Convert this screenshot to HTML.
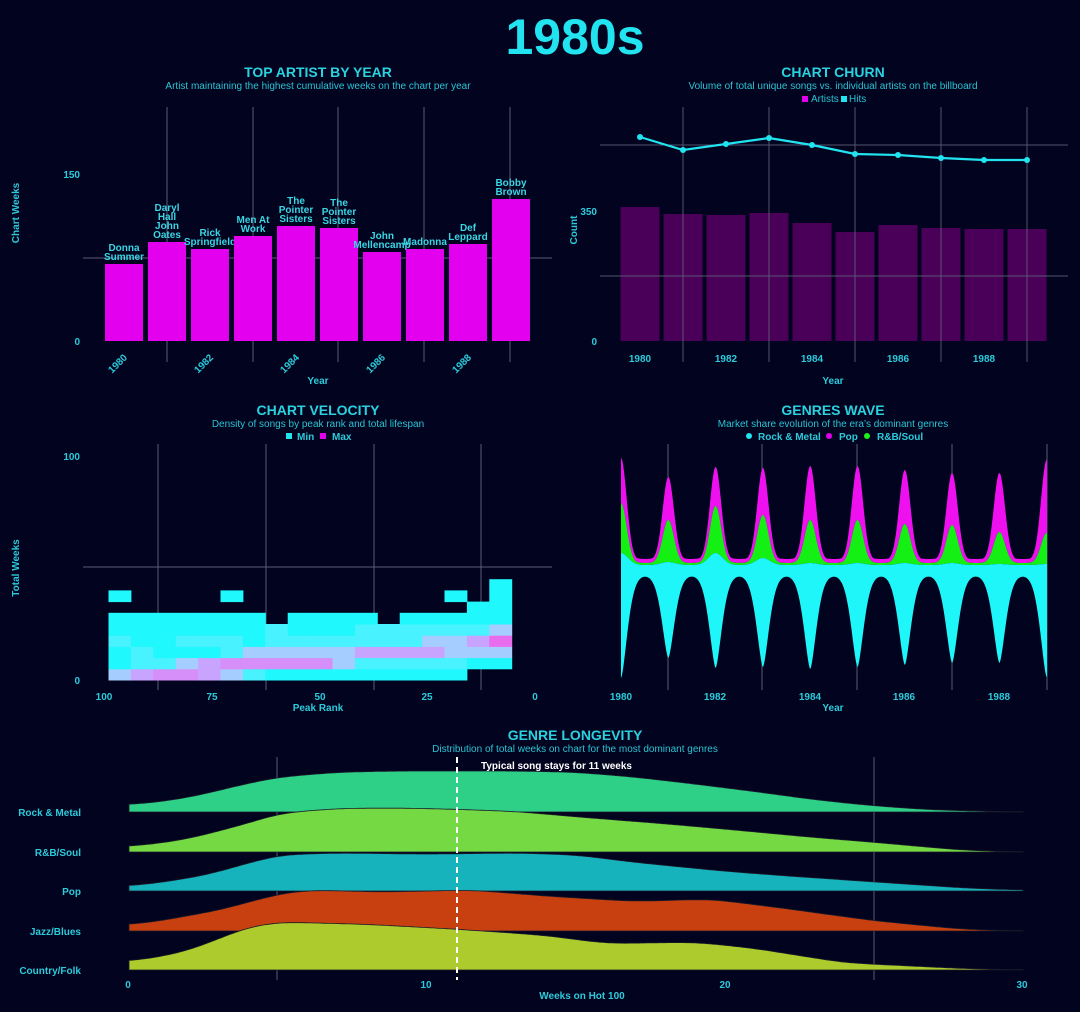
<!DOCTYPE html>
<html><head><meta charset="utf-8"><style>
html,body{margin:0;padding:0;background:#02031e;}
svg{display:block;font-family:"Liberation Sans",sans-serif;}
.t{fill:#2ad2e0;font-weight:bold;font-size:14px;text-anchor:middle}
.s{fill:#2ac4d4;font-size:10px;text-anchor:middle}
.k{fill:#2ccbdb;font-weight:bold;font-size:10px}
.g{stroke:#5a5d78;stroke-width:1}
.bl{fill:#3ad6e4;font-weight:bold;font-size:10px;text-anchor:middle}
</style></head><body>
<svg id="c" width="1080" height="1012" viewBox="0 0 1080 1012" xmlns="http://www.w3.org/2000/svg">
<rect width="1080" height="1012" fill="#02031e"/>
<text x="575" y="54" fill="#22e4f0" font-weight="bold" font-size="50" text-anchor="middle">1980s</text>

<text class="t" x="318" y="77">TOP ARTIST BY YEAR</text>
<text class="s" x="318" y="89">Artist maintaining the highest cumulative weeks on the chart per year</text>
<g class="g">
<line x1="83" y1="258" x2="552" y2="258"/>
<line x1="167" y1="107" x2="167" y2="362"/><line x1="253" y1="107" x2="253" y2="362"/>
<line x1="338" y1="107" x2="338" y2="362"/><line x1="424" y1="107" x2="424" y2="362"/>
<line x1="510" y1="107" x2="510" y2="362"/>
</g>
<g id="p1bars" fill="#e200ee"></g>
<g class="k" text-anchor="end"><text x="80" y="178">150</text><text x="80" y="345">0</text></g>
<text class="k" transform="translate(19,213) rotate(-90)" text-anchor="middle">Chart Weeks</text>
<g class="k" text-anchor="middle">
<text transform="translate(120,366) rotate(-45)">1980</text>
<text transform="translate(206,366) rotate(-45)">1982</text>
<text transform="translate(292,366) rotate(-45)">1984</text>
<text transform="translate(378,366) rotate(-45)">1986</text>
<text transform="translate(464,366) rotate(-45)">1988</text>
<text x="318" y="384">Year</text>
</g>

<text class="t" x="833" y="77">CHART CHURN</text>
<text class="s" x="833" y="89">Volume of total unique songs vs. individual artists on the billboard</text>
<rect x="802" y="96" width="6" height="6" fill="#e200ee"/>
<text x="811" y="102" fill="#2ac4d4" font-size="10">Artists</text>
<rect x="841" y="96" width="6" height="6" fill="#22e4f0"/>
<text x="849" y="102" fill="#2ac4d4" font-size="10">Hits</text>
<g id="p2bars" fill="#4a0058"></g>
<g class="g" opacity="0.9">
<line x1="600" y1="145" x2="1068" y2="145"/><line x1="600" y1="276" x2="1068" y2="276"/>
<line x1="683" y1="107" x2="683" y2="362"/><line x1="769" y1="107" x2="769" y2="362"/>
<line x1="855" y1="107" x2="855" y2="362"/><line x1="941" y1="107" x2="941" y2="362"/>
<line x1="1027" y1="107" x2="1027" y2="362"/>
</g>
<g id="p2line"></g>
<g class="k" text-anchor="end"><text x="597" y="215">350</text><text x="597" y="345">0</text></g>
<text class="k" transform="translate(577,230) rotate(-90)" text-anchor="middle">Count</text>
<g class="k" text-anchor="middle">
<text x="640" y="362">1980</text><text x="726" y="362">1982</text><text x="812" y="362">1984</text>
<text x="898" y="362">1986</text><text x="984" y="362">1988</text><text x="833" y="384">Year</text>
</g>

<text class="t" x="318" y="415">CHART VELOCITY</text>
<text class="s" x="318" y="427">Density of songs by peak rank and total lifespan</text>
<rect x="286" y="433" width="6" height="6" fill="#22e4f0"/>
<text class="k" x="297" y="440">Min</text>
<rect x="320" y="433" width="6" height="6" fill="#e200ee"/>
<text class="k" x="332" y="440">Max</text>
<g class="g">
<line x1="83" y1="567" x2="552" y2="567"/>
<line x1="158" y1="444" x2="158" y2="690"/><line x1="266" y1="444" x2="266" y2="690"/>
<line x1="374" y1="444" x2="374" y2="690"/><line x1="481" y1="444" x2="481" y2="690"/>
</g>
<g id="heat"></g>
<g class="k" text-anchor="end"><text x="80" y="460">100</text><text x="80" y="684">0</text></g>
<text class="k" transform="translate(19,568) rotate(-90)" text-anchor="middle">Total Weeks</text>
<g class="k" text-anchor="middle">
<text x="104" y="700">100</text><text x="212" y="700">75</text><text x="320" y="700">50</text>
<text x="427" y="700">25</text><text x="535" y="700">0</text><text x="318" y="711">Peak Rank</text>
</g>

<text class="t" x="833" y="415">GENRES WAVE</text>
<text class="s" x="833" y="427">Market share evolution of the era’s dominant genres</text>
<circle cx="749" cy="436" r="3" fill="#22e4f0"/><text class="k" x="758" y="440">Rock &amp; Metal</text>
<circle cx="829" cy="436" r="3" fill="#e200ee"/><text class="k" x="839" y="440">Pop</text>
<circle cx="867" cy="436" r="3" fill="#1ef01e"/><text class="k" x="877" y="440">R&amp;B/Soul</text>
<g class="g">
<line x1="668" y1="444" x2="668" y2="690"/><line x1="762" y1="444" x2="762" y2="690"/>
<line x1="857" y1="444" x2="857" y2="690"/><line x1="952" y1="444" x2="952" y2="690"/>
<line x1="1047" y1="444" x2="1047" y2="690"/>
</g>
<g id="wave"></g>
<g class="k" text-anchor="middle">
<text x="621" y="700">1980</text><text x="715" y="700">1982</text><text x="810" y="700">1984</text>
<text x="904" y="700">1986</text><text x="999" y="700">1988</text><text x="833" y="711">Year</text>
</g>

<text class="t" x="575" y="740">GENRE LONGEVITY</text>
<text class="s" x="575" y="752">Distribution of total weeks on chart for the most dominant genres</text>
<g class="g"><line x1="277" y1="757" x2="277" y2="980"/><line x1="874" y1="757" x2="874" y2="980"/></g>
<g id="ridge"></g>
<line x1="457" y1="757" x2="457" y2="980" stroke="#ffffff" stroke-width="2" stroke-dasharray="6,4"/>
<text x="481" y="769" fill="#ffffff" font-weight="bold" font-size="10">Typical song stays for 11 weeks</text>
<g class="k" text-anchor="end">
<text x="81" y="816">Rock &amp; Metal</text><text x="81" y="856">R&amp;B/Soul</text>
<text x="81" y="895">Pop</text><text x="81" y="935">Jazz/Blues</text><text x="81" y="974">Country/Folk</text>
</g>
<g class="k" text-anchor="middle">
<text x="128" y="988">0</text><text x="426" y="988">10</text><text x="725" y="988">20</text>
<text x="1022" y="988">30</text><text x="582" y="999">Weeks on Hot 100</text>
</g>
</svg>
<script>
var NS="http://www.w3.org/2000/svg";
function el(p,t,a){var e=document.createElementNS(NS,t);for(var k in a)e.setAttribute(k,a[k]);document.getElementById(p).appendChild(e);return e;}
var names=[["Donna","Summer"],["Daryl","Hall","John","Oates"],["Rick","Springfield"],["Men At","Work"],["The","Pointer","Sisters"],["The","Pointer","Sisters"],["John","Mellencamp"],["Madonna"],["Def","Leppard"],["Bobby","Brown"]];
var tops=[264,242,249,236,226,228,252,249,244,199];
for(var i=0;i<10;i++){var cx=124+i*43;el("p1bars","rect",{x:cx-19,y:tops[i],width:38,height:341-tops[i]});
 var n=names[i];for(var j=0;j<n.length;j++){var t=el("p1bars","text",{x:cx,y:tops[i]-4-(n.length-1-j)*9,"class":"bl"});t.textContent=n[j];}}
var t2=[207,214,215,213,223,232,225,228,229,229],ly=[137,150,144,138,145,154,155,158,160,160];
var pts="";for(var i=0;i<10;i++){var cx=640+i*43;el("p2bars","rect",{x:cx-19.5,y:t2[i],width:39,height:341-t2[i]});pts+=cx+","+ly[i]+" ";}
el("p2line","polyline",{points:pts,fill:"none",stroke:"#22e4f0","stroke-width":2.2});
for(var i=0;i<10;i++)el("p2line","circle",{cx:640+i*43,cy:ly[i],r:3,fill:"#22e4f0"});
var rows=["blpplbdccccccccc..","cddblpppppbdddddcc","cdcccdbbbbbllllbbb","dccdddcdddddddbblm","cccccccdcccddddddb","ccccccc.cccc.cccccd","................cc","c....c.........c.c",".................c"];
var col={c:"#1ff8fc",d:"#48f2ff",b:"#a6cdff",l:"#c8a4ff",p:"#d68ef8",m:"#e86cee"};
for(var r=0;r<rows.length;r++)for(var c=0;c<18;c++){var ch=rows[r][c];if(!ch||ch==".")continue;
 el("heat","rect",{x:108.5+c*22.4,y:680-(r+1)*11.2,width:22.9,height:11.7,fill:col[ch]});}
var D=[678,658,668,667,669,667,665,663,663,677],B=[12,3,12,7,2,2,2,2,1,1],G=[503,520,506,515,520,520,524,525,532,533],P=[458,477,467,468,466,466,470,473,473,460];
function gs(x,arr,base,w){var v=base;for(var k=0;k<10;k++){var xk=621+k*47.3;var g=Math.exp(-Math.pow((x-xk)/w,2));v+=(arr[k]-base)*g;}return v;}
var xs=[];for(var x=621;x<=1047;x+=0.5)xs.push(x);
function area(top,bot,fill){var d="M";xs.forEach(function(x,i){d+=(i?"L":"")+x+","+top(x).toFixed(1);});for(var i=xs.length-1;i>=0;i--)d+="L"+xs[i]+","+bot(xs[i]).toFixed(1);el("wave","path",{d:d+"Z",fill:fill});}
var cyT=function(x){var v=565;for(var k=0;k<10;k++)v-=B[k]*Math.exp(-Math.pow((x-621-k*47.3)/10,2));return v;};
var cyB=function(x){var v=575;for(var k=0;k<10;k++){var dx=Math.abs(x-621-k*47.3);v+=(D[k]-575)*Math.exp(-Math.pow(dx/9,1.6));}return v;};
var grT=function(x){return Math.min(cyT(x)-2,gs(x,G,563,8));};
var piT=function(x){return Math.min(grT(x)-4,gs(x,P,560,8));};
area(piT,grT,"#ee10ee");area(grT,cyT,"#14f014");area(cyT,cyB,"#1ff6fa");
var R=[{b:812,h:41,c:"#2ecf86",p:[[0,.15],[2,.35],[4,.7],[5,.85],[7,.97],[9,1],[13,1],[15,.97],[17,.85],[19,.68],[21,.5],[23,.3],[25,.15],[27,.05],[30,0]]},
{b:852,h:44,c:"#74d943",p:[[0,.1],[2,.3],[4,.65],[5,.88],[7,.99],[9,1],[11,.97],[13,.92],[15,.8],[18,.64],[20,.52],[23,.33],[25,.22],[28,.04],[30,0]]},
{b:891,h:38,c:"#17b3bc",p:[[0,.1],[2.5,.4],[5,.95],[7,1],[10,.97],[13,1],[15,.95],[17,.75],[20,.52],[22,.4],[25,.24],[28,.08],[30,.02]]},
{b:931,h:41,c:"#c84010",p:[[0,.12],[3,.5],[5,.9],[6,1],[8.5,.95],[11.5,1],[14,.85],[17,.72],[19.5,.78],[22,.55],[25,.25],[28,.04],[30,0]]},
{b:970,h:48,c:"#aecb2e",p:[[0,.15],[2,.4],[4,.9],[5,1],[8,.95],[11,.85],[14,.72],[16,.55],[19,.58],[21,.45],[24,.15],[25,.12],[28,.03],[30,0]]}];
function interp(p,w){if(w<=p[0][0])return p[0][1];for(var i=1;i<p.length;i++)if(w<=p[i][0]){var a=p[i-1],b=p[i];return a[1]+(b[1]-a[1])*(w-a[0])/(b[0]-a[0]);}return p[p.length-1][1];}
R.forEach(function(g){var N=300,vals=[];for(var i=0;i<=N;i++)vals.push(interp(g.p,i*30/N));
 var sm=[];for(var i=0;i<=N;i++){var s=0,ws=0;for(var j=-15;j<=15;j++){var k=i+j;if(k<0||k>N)continue;var ww=Math.exp(-j*j/60);s+=vals[k]*ww;ws+=ww;}sm.push(s/ws);}
 var d="M129,"+g.b;for(var i=0;i<=N;i++)d+="L"+(129+i*30/N*29.8).toFixed(1)+","+(g.b-sm[i]*g.h).toFixed(1);
 d+="L1023,"+g.b+"Z";el("ridge","path",{d:d,fill:g.c,stroke:"#1a1a2a","stroke-width":0.8});});
</script>
</body></html>
